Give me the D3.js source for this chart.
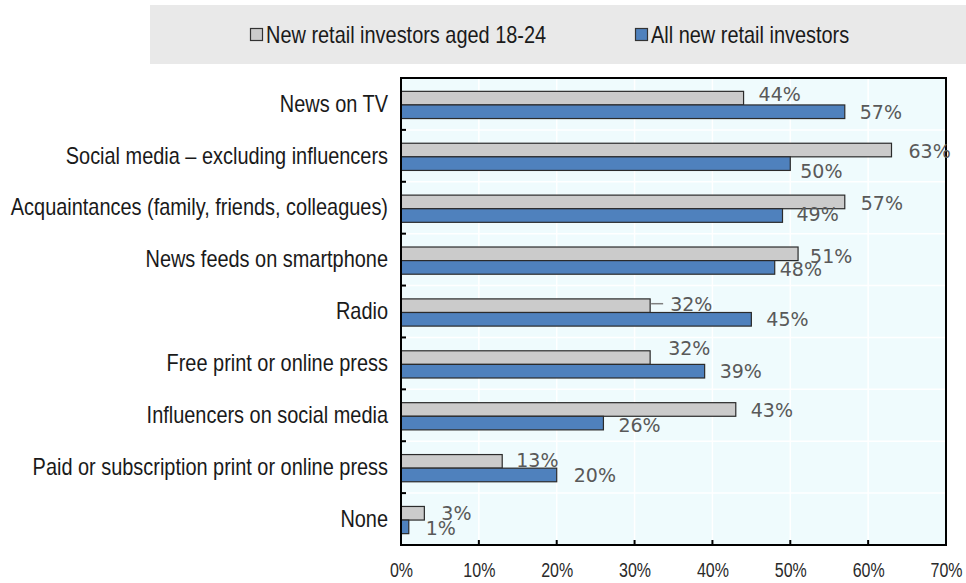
<!DOCTYPE html>
<html>
<head>
<meta charset="utf-8">
<script src="https://cdn.jsdelivr.net/npm/d3@7"></script>
<style>
  html, body { margin: 0; padding: 0; background: #ffffff; }
  svg { display: block; }
  .narrow { font-family: "Liberation Sans", Arial, sans-serif; }
  .val { font-family: "DejaVu Sans", Verdana, sans-serif; }
</style>
</head>
<body>
<svg id="chart" width="966" height="583"></svg>
<script>
// Sources of information used by new retail investors (% of respondents)
const categories = [
  "News on TV",
  "Social media \u2013 excluding influencers",
  "Acquaintances (family, friends, colleagues)",
  "News feeds on smartphone",
  "Radio",
  "Free print or online press",
  "Influencers on social media",
  "Paid or subscription print or online press",
  "None"
];
const seriesNames = ["New retail investors aged 18-24", "All new retail investors"];
const youngValues = [44, 63, 57, 51, 32, 32, 43, 13, 3];
const allValues = [57, 50, 49, 48, 45, 39, 26, 20, 1];
const xTickValues = [0, 10, 20, 30, 40, 50, 60, 70];

// Label placement tweaks (px), keyed "series-category"
const labelNudge = {
  "0-0": {dx: 15, dy: -4}, "0-1": {dx: 17, dy: 1}, "0-2": {dx: 16, dy: 1},
  "0-3": {dx: 12, dy: 2}, "0-4": {dx: 20, dy: -2}, "0-5": {dx: 18, dy: -9},
  "0-6": {dx: 15, dy: 1}, "0-7": {dx: 14, dy: -1}, "0-8": {dx: 17, dy: 0},
  "1-1": {dx: 10, dy: 8}, "1-2": {dx: 14, dy: -1}, "1-3": {dx: 5, dy: 2},
  "1-6": {dx: 15, dy: 2}, "1-7": {dx: 17, dy: 0}, "1-8": {dx: 17, dy: 1}
};
const leaderLines = ["0-4"];

const colors = ["#CBCBCB", "#4F81BD"];
const svg = d3.select("#chart");

// Squeeze text horizontally to a condensed face
function condense(sel, factor) {
  sel.each(function () {
    const w = this.getComputedTextLength();
    d3.select(this).attr("textLength", w * factor).attr("lengthAdjust", "spacingAndGlyphs");
  });
}

const plot = {left: 401, right: 946, top: 78, bottom: 545};

const x = d3.scaleLinear().domain([0, 70]).range([plot.left, plot.right]);
const y = d3.scaleBand().domain(categories).range([plot.top, plot.bottom]).padding(0);
const barH = 13.6;
const inner = d3.scaleBand().domain([0, 1]).range([0, barH * 2]).padding(0);
const groupOffset = (y.bandwidth() - barH * 2) / 2 + 1;

// Legend panel
const legend = svg.append("g");
legend.append("rect").attr("x", 150).attr("y", 5).attr("width", 827).attr("height", 59)
  .attr("fill", "#E9E9E9");
const legendX = [250, 635];
seriesNames.forEach((name, i) => {
  legend.append("rect").attr("x", legendX[i] + 0.5).attr("y", 28.5).attr("width", 12).attr("height", 12)
    .attr("fill", colors[i]).attr("stroke", "#333").attr("stroke-width", 1.2);
  legend.append("text").attr("class", "narrow").attr("x", legendX[i] + 16).attr("y", 43)
    .attr("font-size", 24).attr("fill", "#1a1a1a").text(name)
    .call(condense, 0.83);
});

// Plot background and gridlines
svg.append("rect").attr("x", plot.left).attr("y", plot.top)
  .attr("width", plot.right - plot.left).attr("height", plot.bottom - plot.top)
  .attr("fill", "#EFFBFD");
svg.append("g").selectAll("line").data(xTickValues.slice(1, -1)).join("line")
  .attr("x1", d => x(d)).attr("x2", d => x(d))
  .attr("y1", plot.top).attr("y2", plot.bottom)
  .attr("stroke", "#ffffff").attr("stroke-width", 1.5);
svg.append("g").selectAll("line").data(categories.slice(1)).join("line")
  .attr("x1", plot.left).attr("x2", plot.right)
  .attr("y1", d => y(d)).attr("y2", d => y(d))
  .attr("stroke", "#ffffff").attr("stroke-width", 1.5);

// Bars
const series = [youngValues, allValues];
series.forEach((vals, s) => {
  svg.append("g").selectAll("rect").data(vals).join("rect")
    .attr("x", x(0))
    .attr("y", (d, i) => y(categories[i]) + groupOffset + inner(s))
    .attr("width", d => x(d) - x(0))
    .attr("height", inner.bandwidth())
    .attr("fill", colors[s])
    .attr("stroke", "#2b2b2b").attr("stroke-width", 1.2);
});

// Frame
svg.append("rect").attr("x", plot.left).attr("y", plot.top)
  .attr("width", plot.right - plot.left).attr("height", plot.bottom - plot.top)
  .attr("fill", "none").attr("stroke", "#000").attr("stroke-width", 2);

// Category axis (ticks pointing inward)
const yAxis = d3.axisLeft(y).tickSize(0).tickPadding(13);
const yAxisG = svg.append("g").attr("transform", `translate(${plot.left},0)`).call(yAxis);
yAxisG.select(".domain").remove();
yAxisG.selectAll("text").attr("class", "narrow").attr("font-size", 24).attr("fill", "#1a1a1a")
  .call(condense, 0.83);
svg.append("g").selectAll("line").data(categories.slice(1)).join("line")
  .attr("x1", plot.left).attr("x2", plot.left + 5)
  .attr("y1", d => y(d)).attr("y2", d => y(d))
  .attr("stroke", "#000").attr("stroke-width", 2);

// Value axis (ticks pointing inward)
const xAxis = d3.axisBottom(x).tickValues(xTickValues).tickFormat(d => d + "%")
  .tickSize(0).tickPadding(18);
const xAxisG = svg.append("g").attr("transform", `translate(0,${plot.bottom})`).call(xAxis);
xAxisG.select(".domain").remove();
xAxisG.selectAll("text").attr("class", "narrow").attr("font-size", 19.5).attr("fill", "#2a2a2a")
  .call(condense, 0.82);
svg.append("g").selectAll("line").data(xTickValues.slice(1, -1)).join("line")
  .attr("x1", d => x(d)).attr("x2", d => x(d))
  .attr("y1", plot.bottom).attr("y2", plot.bottom - 5)
  .attr("stroke", "#000").attr("stroke-width", 2);

// Value labels
series.forEach((vals, s) => {
  vals.forEach((v, i) => {
    const key = s + "-" + i;
    const n = labelNudge[key] || {dx: 15, dy: 0};
    const cy = y(categories[i]) + groupOffset + inner(s) + inner.bandwidth() / 2;
    if (leaderLines.includes(key)) {
      svg.append("line").attr("x1", x(v) + 1).attr("x2", x(v) + 13)
        .attr("y1", cy - 2).attr("y2", cy - 2)
        .attr("stroke", "#7f7f7f").attr("stroke-width", 1.5);
    }
    svg.append("text").attr("class", "val")
      .attr("x", x(v) + n.dx).attr("y", cy + n.dy).attr("dy", "0.36em")
      .attr("font-size", 19).attr("fill", "#595959")
      .text(v + "%");
  });
});
</script>
</body>
</html>
